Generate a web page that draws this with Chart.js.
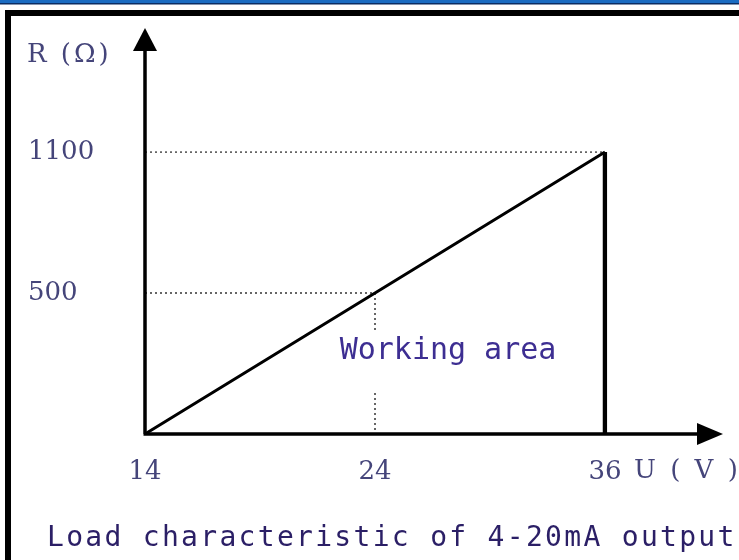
<!DOCTYPE html>
<html>
<head>
<meta charset="utf-8">
<script src="https://cdn.jsdelivr.net/npm/chart.js@4"></script>
<style>
  html, body { margin: 0; padding: 0; background: #fff; }
  canvas { display: block; }
</style>
</head>
<body>
<canvas id="chart" width="739" height="560"></canvas>
<script>
// tick labels (the drawing is schematic, not to scale)
const voltTicks = ['14', '24', '36'];
const resTicks = ['1100', '500', '0'];

// load line R = 50 * (U - 14)
const loadU = ['14', '24', '36'];
const loadR = ['0', '500', '1100'];

const titleText = 'Load characteristic of 4-20mA output';
const areaText = 'Working area';
const xName = 'U ( V )';
const yName = 'R (\u03A9)';

const pts = (xs, ys) => xs.map((x, i) => ({ x: x, y: ys[i] }));

// helper lines
const guide1100 = pts(['14', '36'], ['1100', '1100']);
const guide500 = pts(['14', '24'], ['500', '500']);
const guide24 = pts(['24', '24'], ['500', '0']);
const edge36 = pts(['36', '36'], ['0', '1100']);

const tickColor = '#45457a';

// frame, arrows, labels
const decor = {
  id: 'decor',
  beforeDraw(chart) {
    const ctx = chart.ctx;
    ctx.save();
    ctx.fillStyle = '#1b6cc2';
    ctx.fillRect(0, 0, 739, 3);
    ctx.fillStyle = '#0c2d63';
    ctx.fillRect(0, 3, 739, 1.5);
    ctx.fillStyle = '#000';
    ctx.fillRect(5, 10, 734, 6);
    ctx.fillRect(5, 10, 6, 550);
    ctx.restore();
  },
  afterDatasetsDraw(chart) {
    const ctx = chart.ctx;
    const a = chart.chartArea;
    const ox = a.left, oy = a.bottom;
    const yTip = a.top - 124, xTip = a.right + 118;
    ctx.save();
    ctx.strokeStyle = '#000';
    ctx.fillStyle = '#000';
    ctx.lineWidth = 3.5;
    ctx.beginPath();
    ctx.moveTo(ox, oy);
    ctx.lineTo(ox, yTip + 10);
    ctx.moveTo(ox - 1.5, oy);
    ctx.lineTo(xTip - 10, oy);
    ctx.stroke();
    ctx.beginPath();
    ctx.moveTo(ox, yTip);
    ctx.lineTo(ox - 12, yTip + 23);
    ctx.lineTo(ox + 12, yTip + 23);
    ctx.closePath();
    ctx.fill();
    ctx.beginPath();
    ctx.moveTo(xTip, oy);
    ctx.lineTo(xTip - 26, oy - 11);
    ctx.lineTo(xTip - 26, oy + 11);
    ctx.closePath();
    ctx.fill();

    // axis names
    ctx.fillStyle = tickColor;
    ctx.font = '26px "DejaVu Serif"';
    ctx.textBaseline = 'middle';
    ctx.textAlign = 'left';
    ctx.letterSpacing = '3px';
    ctx.fillText(yName, 27, 55);
    ctx.fillText(xName, 634, 471);
    ctx.letterSpacing = '0px';

    // working area label over the dotted line
    ctx.fillStyle = '#fff';
    ctx.fillRect(330, 332, 236, 58);
    ctx.fillStyle = '#3d2e92';
    ctx.font = '30px "DejaVu Sans Mono"';
    ctx.textAlign = 'center';
    ctx.fillText(areaText, 448, 351);

    // caption
    ctx.fillStyle = '#2b1f66';
    ctx.font = '28px "DejaVu Sans Mono"';
    ctx.letterSpacing = '2.3px';
    ctx.textAlign = 'left';
    ctx.fillText(titleText, 47, 539);
    ctx.restore();
  }
};

const dotted = {
  borderColor: '#333',
  borderWidth: 1.5,
  borderDash: [2, 3],
  pointRadius: 0,
  fill: false
};

new Chart(document.getElementById('chart'), {
  type: 'line',
  data: {
    datasets: [
      { data: pts(loadU, loadR), borderColor: '#000', borderWidth: 3, pointRadius: 0, tension: 0 },
      Object.assign({ data: guide1100 }, dotted),
      Object.assign({ data: guide500 }, dotted),
      Object.assign({ data: guide24 }, dotted),
      { data: edge36, borderColor: '#000', borderWidth: 4.5, pointRadius: 0 }
    ]
  },
  options: {
    responsive: false,
    animation: false,
    layout: { padding: { left: 28, top: 152, right: 134, bottom: 66 } },
    plugins: {
      legend: { display: false },
      tooltip: { enabled: false }
    },
    scales: {
      x: {
        type: 'category',
        labels: voltTicks,
        offset: false,
        grid: { display: false, drawTicks: false },
        border: { display: false },
        ticks: { color: tickColor, padding: 23, maxRotation: 0, font: { family: 'DejaVu Serif', size: 26 } },
        afterFit(scale) { scale.height = 60; }
      },
      y: {
        type: 'category',
        labels: resTicks,
        offset: false,
        grid: { display: false, drawTicks: false },
        border: { display: false },
        ticks: {
          color: tickColor,
          crossAlign: 'far',
          font: { family: 'DejaVu Serif', size: 26 },
          callback(v, i) { const t = resTicks[i]; return t === '0' ? '' : t; }
        },
        afterFit(scale) { scale.width = 117; }
      }
    }
  },
  plugins: [decor]
});
</script>
</body>
</html>
